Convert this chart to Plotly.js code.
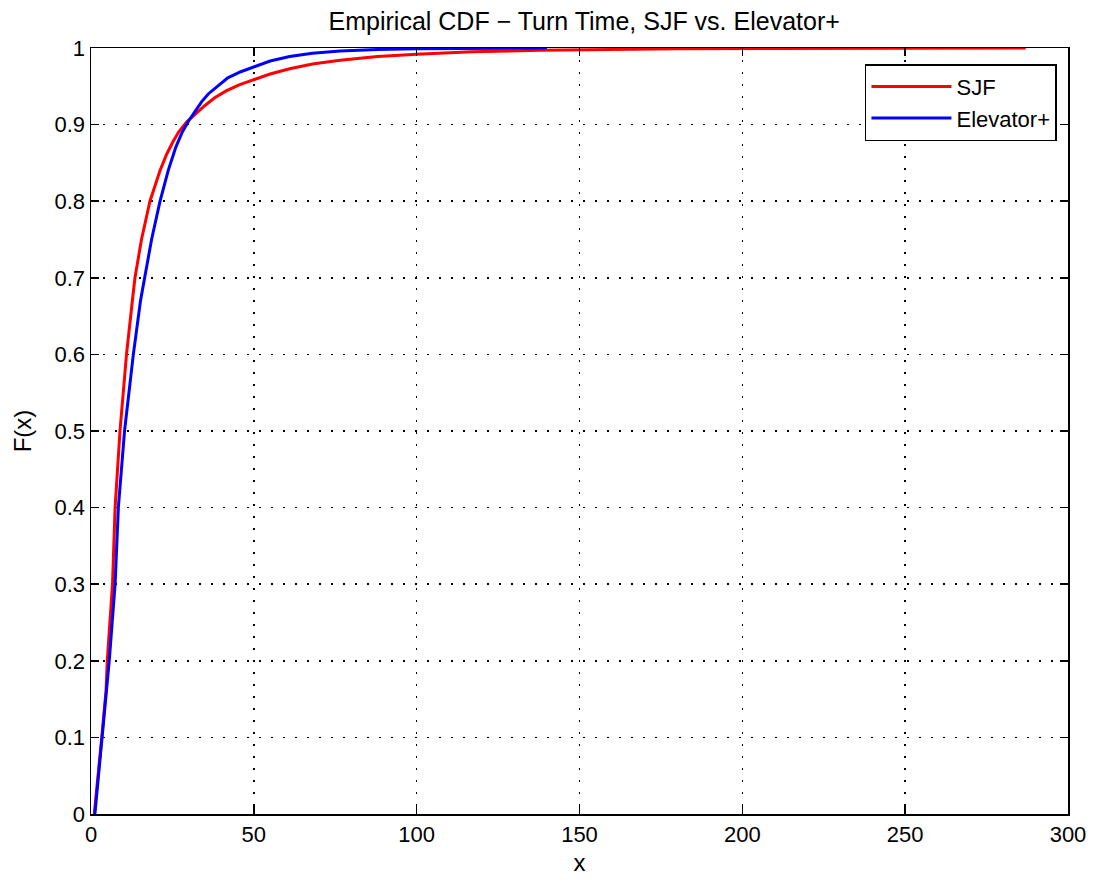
<!DOCTYPE html>
<html>
<head>
<meta charset="utf-8">
<script src="https://cdn.plot.ly/plotly-3.0.1.min.js"></script>
<style>html,body{margin:0;padding:0;background:#fff;}#chart{width:1094px;height:882px;}</style>
</head>
<body>
<div id="chart"></div>
<script>
var sjfX = [1.0, 2.2, 3.3, 4.6, 5.0, 6.6, 7.4, 8.9, 10.9, 12.7, 13.5, 15.5, 18.1, 21.2, 23.3, 25.2, 27.0, 29.5, 32.0, 35.0, 38.0, 41.5, 45.5, 50, 55, 61, 68, 76.5, 88, 100, 117, 138, 160, 180, 210, 240, 287];
var sjfY = [0.0, 0.05, 0.10, 0.16, 0.20, 0.30, 0.40, 0.50, 0.60, 0.67, 0.70, 0.75, 0.80, 0.84, 0.862, 0.878, 0.891, 0.904, 0.914, 0.925, 0.935, 0.944, 0.952, 0.959, 0.966, 0.973, 0.979, 0.984, 0.989, 0.992, 0.995, 0.997, 0.998, 0.999, 0.9993, 0.9997, 1.0];

var elevX = [1.2, 2.3, 3.4, 4.8, 5.6, 7.4, 8.4, 10.3, 13.0, 15.2, 16.4, 18.6, 21.2, 23.7, 26.0, 28.0, 30.0, 32.0, 34.0, 36.0, 39.0, 42.0, 46.0, 50, 55, 61, 68, 76.5, 88, 100, 115, 130, 140];
var elevY = [0.0, 0.05, 0.10, 0.16, 0.20, 0.30, 0.40, 0.50, 0.60, 0.67, 0.70, 0.75, 0.80, 0.84, 0.870, 0.890, 0.905, 0.918, 0.930, 0.940, 0.951, 0.961, 0.969, 0.975, 0.983, 0.989, 0.993, 0.996, 0.998, 0.999, 0.9995, 1.0, 1.0];

var seriesNames = ["SJF", "Elevator+"];
var titleText = "Empirical CDF \u2212 Turn Time, SJF vs. Elevator+";
var xTicks = [0, 50, 100, 150, 200, 250, 300];
var yTicks = [0, 0.1, 0.2, 0.3, 0.4, 0.5, 0.6, 0.7, 0.8, 0.9, 1];

var font = "Liberation Sans, Arial, sans-serif";

var traces = [
  {x: sjfX, y: sjfY, type: "scatter", mode: "lines", name: seriesNames[0],
   line: {color: "#ff0000", width: 3}},
  {x: elevX, y: elevY, type: "scatter", mode: "lines", name: seriesNames[1],
   line: {color: "#0000ff", width: 3}}
];

var axisCommon = {
  showline: true, linecolor: "#000", linewidth: 1.5, mirror: "allticks",
  ticks: "inside", ticklen: 8, tickcolor: "#000", tickwidth: 1.5,
  showgrid: true, gridcolor: "#000", griddash: "2px,10px", gridwidth: 1.5,
  zeroline: false, tickfont: {family: font, size: 22, color: "#000"}
};

var layout = {
  width: 1094, height: 882,
  paper_bgcolor: "#fff", plot_bgcolor: "#fff",
  margin: {l: 91, r: 26, t: 48, b: 68},
  title: {text: titleText, font: {family: font, size: 25, color: "#000"}, x: 0.534, xanchor: "center", y: 0.976, yanchor: "middle"},
  xaxis: Object.assign({}, axisCommon, {
    range: [0, 300], tickmode: "array", tickvals: xTicks,
    title: {text: "x", font: {family: font, size: 24, color: "#000"}, standoff: 8}
  }),
  yaxis: Object.assign({}, axisCommon, {
    range: [0, 1], tickmode: "array", tickvals: yTicks,
    ticktext: yTicks.map(function(v){return String(v);}),
    title: {text: "F(x)", font: {family: font, size: 24, color: "#000"}, standoff: 16}
  }),
  showlegend: true,
  legend: {
    x: 0.9887, xanchor: "right", y: 0.979, yanchor: "top",
    bgcolor: "#fff", bordercolor: "#000", borderwidth: 1.5,
    font: {family: font, size: 22, color: "#000"},
    itemwidth: 80, tracegroupgap: 0
  }
};

Plotly.newPlot("chart", traces, layout, {displayModeBar: false, staticPlot: true});
</script>
</body>
</html>
